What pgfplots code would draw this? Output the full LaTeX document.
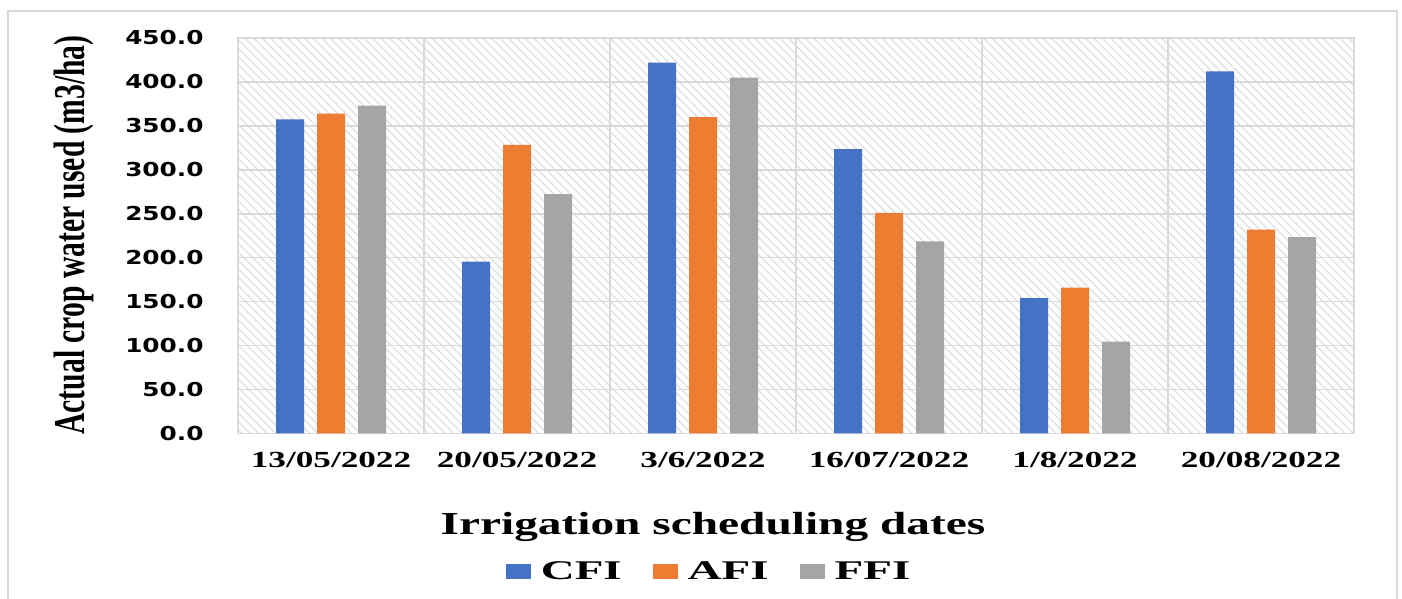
\documentclass[border=0pt]{standalone}
\usepackage{pgfplots}
\pgfplotsset{compat=1.18}
\usepackage{graphicx}
\usepackage{fontspec}
\setmainfont{Liberation Serif}
\newfontfamily\dvs{DejaVu Sans}
\usetikzlibrary{patterns.meta}
\definecolor{cfi}{HTML}{4472C4}
\definecolor{afi}{HTML}{ED7D31}
\definecolor{ffi}{HTML}{A5A5A5}
\definecolor{gridc}{HTML}{D9D9D9}
\newcommand\yt[1]{\scalebox{1.29}[1]{#1}}
\newcommand\xt[1]{\scalebox{1.53}[1]{#1}}
\newcommand\lt[1]{\scalebox{1.74}[1]{#1}}
\pgfplotsset{sq/.style={legend image code/.code={\path[##1,draw=none,fill] (0pt,-3.75pt) rectangle (12.5pt,3.75pt);\path (15.5pt,0pt);}}}
\begin{document}
\begin{tikzpicture}[x=1pt,y=1pt]
\path[use as bounding box] (0,0) rectangle (701,299.5);
\draw[gridc, line width=0.75pt] (4,-2) -- (4,294) -- (698.5,294) -- (698.5,-2);
\begin{axis}[
  at={(119pt,82.75pt)}, anchor=south west,
  width=558pt, height=197.75pt, scale only axis,
  ymin=0, ymax=450, xmin=-0.5, xmax=5.5,
  ybar=6.5pt, bar width=14pt,
  ytick={0,50,...,450},
  yticklabels={\yt{0.0},\yt{50.0},\yt{100.0},\yt{150.0},\yt{200.0},\yt{250.0},\yt{300.0},\yt{350.0},\yt{400.0},\yt{450.0}},
  xtick={0,1,2,3,4,5},
  xticklabels={\xt{13/05/2022},\xt{20/05/2022},\xt{3/6/2022},\xt{16/07/2022},\xt{1/8/2022},\xt{20/08/2022}},
  extra x ticks={0.5,1.5,2.5,3.5,4.5}, extra x tick labels={}, extra x tick style={grid=major},
  ymajorgrids, major grid style={draw=gridc, line width=0.75pt},
  axis line style={draw=gridc, line width=0.75pt},
  major tick length=0pt,
  axis background/.style={pattern={Lines[angle=-45,distance=3pt,line width=0.6pt]}, pattern color=black!13},
  yticklabel style={font=\dvs\bfseries\fontsize{9.6}{11}\selectfont, anchor=east, inner sep=0pt, xshift=-17pt},
  xticklabel style={font=\bfseries\fontsize{11.5}{13}\selectfont, anchor=north, inner sep=0pt, yshift=-9pt},
  xlabel={\scalebox{1.48}[1]{Irrigation scheduling dates}},
  xlabel style={font=\bfseries\fontsize{16}{18}\selectfont, at={(axis description cs:0.4256,-0.2566)}, anchor=base},
  ylabel={\scalebox{0.673}[1]{Actual crop water used (m3/ha)}},
  ylabel style={font=\bfseries\fontsize{22}{24}\selectfont, at={(axis description cs:-0.147,0.502)}, anchor=center},
  legend style={at={(axis description cs:0.423,-0.35)}, anchor=center, draw=none, fill=none,
    font=\bfseries\fontsize{13.5}{15}\selectfont, /tikz/every even column/.append style={column sep=13.5pt}},
  legend columns=3, legend cell align=left,
]
\addplot[sq, fill=cfi, draw=none] coordinates {(0,357.5) (1,195.5) (2,422) (3,323.5) (4,154) (5,412)};
\addplot[sq, fill=afi, draw=none] coordinates {(0,364) (1,328.5) (2,360) (3,251) (4,166) (5,232)};
\addplot[sq, fill=ffi, draw=none] coordinates {(0,373) (1,272.5) (2,405) (3,218.5) (4,104.5) (5,223.5)};
\legend{\lt{CFI},\lt{AFI},\lt{FFI}}
\end{axis}
\end{tikzpicture}
\end{document}
